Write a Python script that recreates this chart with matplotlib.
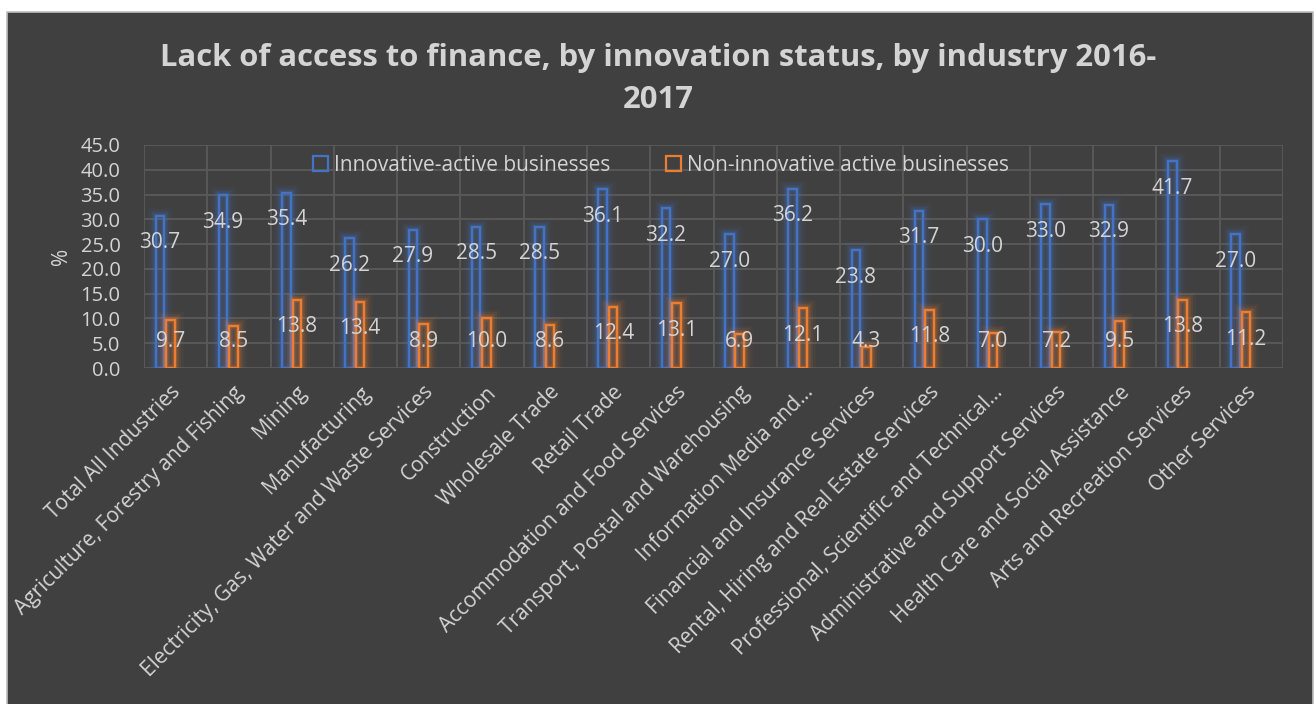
import matplotlib
matplotlib.use("Agg")
import matplotlib.pyplot as plt
import matplotlib.patheffects as pe
import matplotlib.transforms as mtransforms
from matplotlib.patches import Rectangle
import numpy as np

industries = [
    "Total All Industries",
    "Agriculture, Forestry and Fishing",
    "Mining",
    "Manufacturing",
    "Electricity, Gas, Water and Waste Services",
    "Construction",
    "Wholesale Trade",
    "Retail Trade",
    "Accommodation and Food Services",
    "Transport, Postal and Warehousing",
    "Information Media and\u2026",
    "Financial and Insurance Services",
    "Rental, Hiring and Real Estate Services",
    "Professional, Scientific and Technical\u2026",
    "Administrative and Support Services",
    "Health Care and Social Assistance",
    "Arts and Recreation Services",
    "Other Services",
]
innovative = [30.7, 34.9, 35.4, 26.2, 27.9, 28.5, 28.5, 36.1, 32.2,
              27.0, 36.2, 23.8, 31.7, 30.0, 33.0, 32.9, 41.7, 27.0]
non_innovative = [9.7, 8.5, 13.8, 13.4, 8.9, 10.0, 8.6, 12.4, 13.1,
                  6.9, 12.1, 4.3, 11.8, 7.0, 7.2, 9.5, 13.8, 11.2]
yticks = np.arange(0, 45.1, 5)

BG = "#404040"
TEXT = "#D4D4D4"
GRID = "#5A5A5A"
BLUE = "#4472C4"
ORANGE = "#ED7D31"
FONT = "Open Sans"

plt.rcParams["font.family"] = [FONT, "DejaVu Sans"]

fig = plt.figure(figsize=(13.16, 7.04), dpi=100, facecolor="white")
# dark chart panel with a thin light border
fig.patches.append(Rectangle((7 / 1316, -0.01), 1306 / 1316, 1 - 12 / 704 + 0.01,
                             transform=fig.transFigure, facecolor=BG,
                             edgecolor="#BFBFBF", linewidth=1.2, zorder=-10))

ax = fig.add_axes([144 / 1316, 1 - 368 / 704, (1283 - 144) / 1316, 223 / 704])
ax.set_facecolor(BG)
ax.set_zorder(2)

x = np.arange(len(industries))
width = 0.135


def glow(color):
    return [
        pe.Stroke(linewidth=12, foreground=color, alpha=0.05),
        pe.Stroke(linewidth=8.5, foreground=color, alpha=0.09),
        pe.Stroke(linewidth=5.5, foreground=color, alpha=0.14),
        pe.Stroke(linewidth=3.2, foreground=color, alpha=0.22),
        pe.Normal(),
    ]


bars_a = ax.bar(x - 0.25, innovative, width, facecolor="none",
                edgecolor=BLUE, linewidth=1.6, zorder=3,
                label="Innovative-active businesses")
bars_b = ax.bar(x - 0.085, non_innovative, width, facecolor="none",
                edgecolor=ORANGE, linewidth=1.6, zorder=3,
                label="Non-innovative active businesses")
for b in bars_a:
    b.set_path_effects(glow(BLUE))
for b in bars_b:
    b.set_path_effects(glow(ORANGE))

# value labels sit inside the bar end, clamped near the baseline
for bars, vals in ((bars_a, innovative), (bars_b, non_innovative)):
    for b, v in zip(bars, vals):
        ax.text(b.get_x() + b.get_width() / 2, max(v - 5.45, 5.25), f"{v:.1f}",
                ha="center", va="center", color=TEXT, fontsize=15, zorder=5)

ax.set_xlim(-0.5, len(industries) - 0.5)
ax.set_ylim(0, 45)
ax.set_yticks(yticks)
ax.set_yticklabels([f"{t:.1f}" for t in yticks])
ax.set_xticks(x)
ax.set_xticklabels(industries, rotation=45, ha="right", rotation_mode="anchor")
ax.set_xticks(np.arange(-0.5, len(industries)), minor=True)
ax.tick_params(axis="both", which="both", length=0, colors=TEXT)
ax.tick_params(axis="y", labelsize=14.5, pad=17)
ax.tick_params(axis="x", labelsize=15, pad=10)
shift = mtransforms.ScaledTranslation(-6 / 100, 0, fig.dpi_scale_trans)
for lbl in ax.get_xticklabels():
    lbl.set_transform(lbl.get_transform() + shift)
ax.grid(axis="y", color=GRID, linewidth=1.3, zorder=0)
ax.grid(axis="x", which="minor", color=GRID, linewidth=1.3, zorder=0)
ax.set_axisbelow(True)
for s in ax.spines.values():
    s.set_visible(False)
ax.set_ylabel("%", color=TEXT, fontsize=15, labelpad=6)

handles = [Rectangle((0, 0), 1, 1, facecolor="none", edgecolor=c, linewidth=1.6)
           for c in (BLUE, ORANGE)]
leg = ax.legend(handles, ["Innovative-active businesses", "Non-innovative active businesses"],
                loc="center", bbox_to_anchor=(0.454, 0.91), ncol=2, frameon=False,
                fontsize=15, handlelength=0.7, handleheight=0.7,
                handletextpad=0.3, columnspacing=2.7)
for t in leg.get_texts():
    t.set_color(TEXT)

fig.text(0.5, 1 - 79 / 704,
         "Lack of access to finance, by innovation status, by industry 2016-\n2017",
         ha="center", va="center", color=TEXT, fontsize=22.3, fontweight="bold",
         linespacing=1.5)

fig.savefig("out.png", dpi=100, facecolor=fig.get_facecolor())
